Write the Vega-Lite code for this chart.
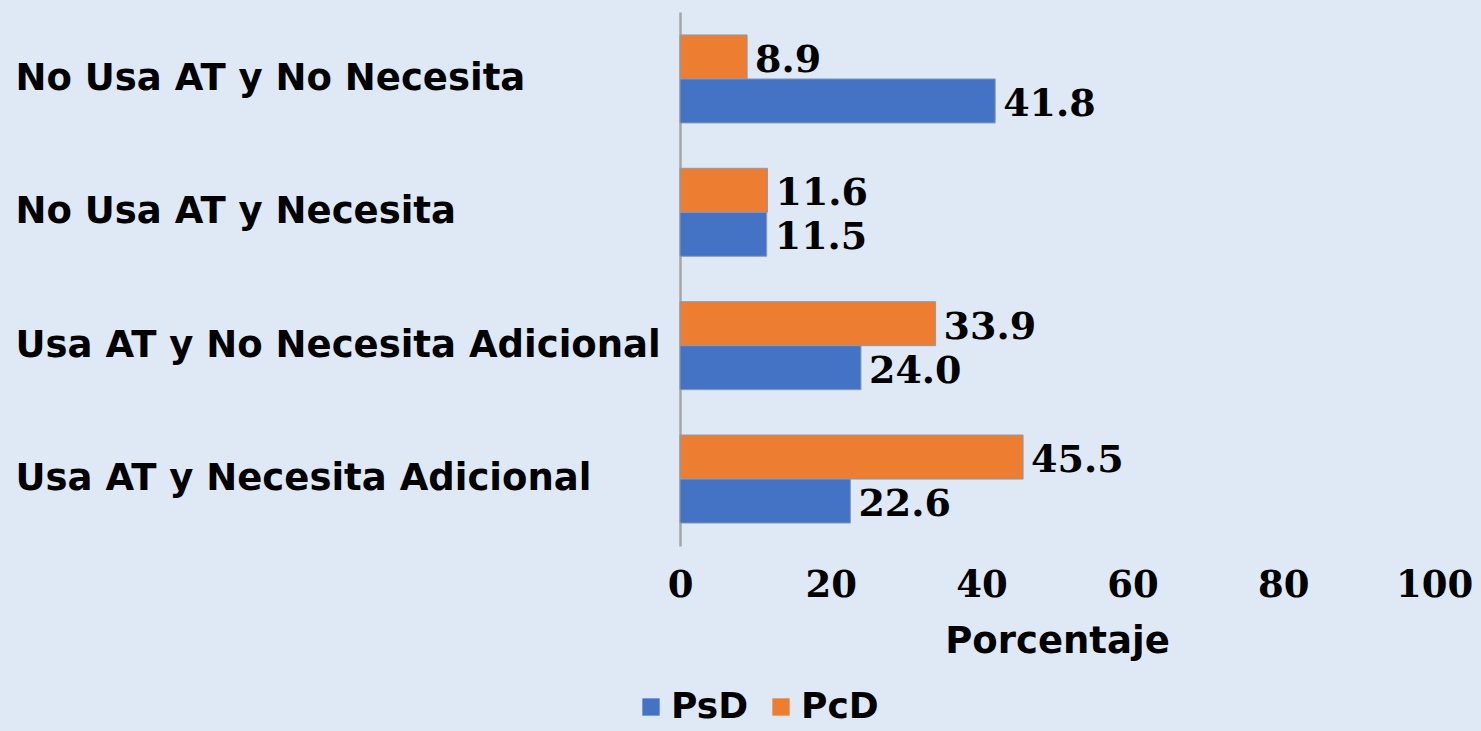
{
  "$schema": "https://vega.github.io/schema/vega-lite/v6.json",
  "autosize": {"type": "none"},
  "width": 754,
  "height": 534,
  "padding": {"left": 680, "top": 12, "right": 47, "bottom": 185},
  "background": "#dee9f5",
  "config": {"view": {"stroke": null}},
  "data": {
    "values": [
      {"cat": "No Usa AT y No Necesita", "serie": "PcD", "valor": 8.9},
      {"cat": "No Usa AT y No Necesita", "serie": "PsD", "valor": 41.8},
      {"cat": "No Usa AT y Necesita", "serie": "PcD", "valor": 11.6},
      {"cat": "No Usa AT y Necesita", "serie": "PsD", "valor": 11.5},
      {"cat": "Usa AT y No Necesita Adicional", "serie": "PcD", "valor": 33.9},
      {"cat": "Usa AT y No Necesita Adicional", "serie": "PsD", "valor": 24.0},
      {"cat": "Usa AT y Necesita Adicional", "serie": "PcD", "valor": 45.5},
      {"cat": "Usa AT y Necesita Adicional", "serie": "PsD", "valor": 22.6}
    ]
  },
  "encoding": {
    "y": {
      "field": "cat", "type": "nominal", "sort": null,
      "scale": {"paddingInner": 0.34, "paddingOuter": 0.172},
      "axis": {
        "title": null, "ticks": false, "tickSize": 0, "labelAlign": "left", "labelPadding": 665,
        "labelFont": "DejaVu Sans", "labelFontWeight": "bold", "labelFontSize": 37,
        "labelColor": "#000000", "labelLimit": 700,
        "domain": true, "domainColor": "#a6a6a6", "domainWidth": 2.5
      }
    },
    "yOffset": {"field": "serie", "type": "nominal", "scale": {"domain": ["PcD", "PsD"], "paddingInner": 0}},
    "x": {
      "field": "valor", "type": "quantitative",
      "scale": {"domain": [0, 100], "nice": false},
      "axis": {
        "title": "Porcentaje", "values": [0, 20, 40, 60, 80, 100], "grid": false, "domain": false, "ticks": false, "tickSize": 0,
        "labelFont": "DejaVu Serif", "labelFontWeight": "bold", "labelFontSize": 37, "labelColor": "#000000",
        "labelPadding": 21, "labelFlush": false,
        "titleFont": "DejaVu Sans", "titleFontWeight": "bold", "titleFontSize": 37, "titleColor": "#000000", "titlePadding": 20
      }
    }
  },
  "layer": [
    {
      "mark": {"type": "bar", "stroke": "#8a9bb0", "strokeWidth": 1},
      "encoding": {
        "color": {
          "field": "serie", "type": "nominal",
          "scale": {"domain": ["PsD", "PcD"], "range": ["#4472c4", "#ed7d31"]},
          "legend": {
            "title": null, "orient": "none", "direction": "horizontal", "legendX": -47, "legendY": 677,
            "symbolType": "square", "symbolSize": 300, "symbolStrokeWidth": 0, "symbolOpacity": 1,
            "labelFont": "DejaVu Sans", "labelFontWeight": "bold", "labelFontSize": 36, "labelColor": "#000000",
            "labelOffset": 2, "columnPadding": 14
          }
        }
      }
    },
    {
      "mark": {"type": "text", "align": "left", "baseline": "middle", "dx": 8, "dy": 4,
        "font": "DejaVu Serif", "fontWeight": "bold", "fontSize": 38, "color": "#000000"},
      "encoding": {"text": {"field": "valor", "type": "quantitative", "format": ".1f"}}
    }
  ]
}
